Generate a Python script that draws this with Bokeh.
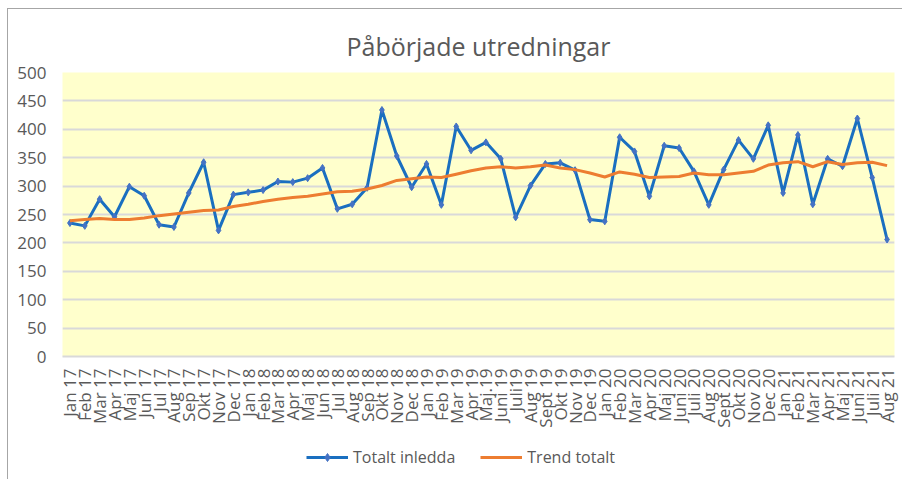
from bokeh.plotting import figure
from bokeh.models import Range1d, FixedTicker, Legend, LegendItem, ColumnDataSource
from bokeh.layouts import column
from bokeh.embed import file_html
from bokeh.resources import INLINE
import math

months = ["Jan 17", "Feb 17", "Mar 17", "Apr 17", "Maj 17", "Jun 17", "Jul 17", "Aug 17",
          "Sep 17", "Okt 17", "Nov 17", "Dec 17",
          "Jan 18", "Feb 18", "Mar 18", "Apr 18", "Maj 18", "Jun 18", "Jul 18", "Aug 18",
          "Sep 18", "Okt 18", "Nov 18", "Dec 18",
          "Jan 19", "Feb 19", "Mar 19", "Apr 19", "Maj.19", "Juni 19", "Juli19", "Aug 19",
          "Sept 19", "Okt 19", "Nov 19", "Dec 19",
          "Jan 20", "Feb 20", "Mar 20", "Apr 20", "Maj 20", "Juni 20", "Juli 20", "Aug 20",
          "Sept 20", "Okt 20", "Nov 20", "Dec 20",
          "Jan 21", "Feb 21", "Mar 21", "Apr 21", "Maj 21", "Juni 21", "Juli 21", "Aug 21"]

totalt_inledda = [235, 230, 277, 246, 299, 283, 232, 228, 288, 342, 222, 285,
                  289, 293, 308, 307, 314, 332, 260, 268, 297, 434, 353, 298,
                  339, 267, 405, 363, 377, 348, 245, 301, 339, 341, 328, 241,
                  238, 386, 361, 282, 371, 367, 326, 267, 329, 381, 348, 407,
                  288, 390, 268, 348, 335, 419, 315, 206]

trend_totalt = [239, 241, 243, 241, 241, 244, 248, 251, 254, 257, 258, 264,
                268, 273, 277, 280, 282, 286, 290, 291, 295, 301, 310, 313,
                316, 315, 321, 327, 332, 334, 332, 334, 337, 332, 329, 323,
                316, 325, 321, 315, 316, 317, 323, 320, 320, 323, 326, 337,
                341, 343, 334, 343, 338, 341, 342, 336]

y_ticks = [0, 50, 100, 150, 200, 250, 300, 350, 400, 450, 500]

src = ColumnDataSource(dict(m=months, t=totalt_inledda, tr=trend_totalt))

grey = "#595959"
font = "Open Sans"
blue = "#1A6FC0"
marker_blue = "#4472C4"
orange = "#ED7D31"
edge = "#A6A6A6"

p = figure(width=902, height=433, x_range=months, y_range=Range1d(0, 500),
           output_backend="svg", toolbar_location=None,
           min_border_left=62, min_border_right=8, min_border_top=72, min_border_bottom=77)
p.styles = {
    "background-color": "white",
    "background-image": f"linear-gradient({edge}, {edge}), linear-gradient({edge}, {edge})",
    "background-size": "1px 100%, 100% 1px",
    "background-position": "7px 8px, 7px 8px",
    "background-repeat": "no-repeat",
}

p.title.text = "Påbörjade utredningar"
p.title.align = "center"
p.title.text_font = font
p.title.text_font_size = "25px"
p.title.text_font_style = "normal"
p.title.text_color = grey
p.title.standoff = 20

p.background_fill_color = "#FFFFCC"
p.border_fill_color = None
p.outline_line_color = None
p.x_range.range_padding = 0

p.xgrid.grid_line_color = None
p.ygrid.grid_line_color = "#D9D9D9"
p.ygrid.grid_line_width = 2
p.yaxis.ticker = FixedTicker(ticks=y_ticks)

for ax in (p.xaxis, p.yaxis):
    ax.major_tick_line_color = None
    ax.minor_tick_line_color = None
    ax.major_tick_out = 0
    ax.major_tick_in = 0
    ax.major_label_text_font = font
    ax.major_label_text_color = grey

p.yaxis.axis_line_color = None
p.yaxis.major_label_text_font_size = "17px"
p.yaxis.major_label_standoff = 16

p.xaxis.axis_line_color = "#D9D9D9"
p.xaxis.axis_line_width = 2
p.xaxis.major_label_orientation = math.pi / 2
p.xaxis.major_label_text_font_size = "17px"
p.xaxis.major_label_standoff = 12

p.line("m", "t", source=src, line_color=blue, line_width=3)
p.scatter("m", "t", source=src, marker="diamond", size=7, color=marker_blue)
p.line("m", "tr", source=src, line_color=orange, line_width=3)

# legend strip below the chart
lg = figure(width=902, height=46, x_range=p.x_range, y_range=Range1d(1000, 1001),
            output_backend="svg", toolbar_location=None,
            x_axis_location=None, y_axis_location=None,
            min_border_left=0, min_border_right=0, min_border_top=0, min_border_bottom=0)
lg.styles = {
    "background-color": "white",
    "background-image": f"linear-gradient({edge}, {edge})",
    "background-size": "1px 100%",
    "background-position": "7px 0px",
    "background-repeat": "no-repeat",
}
lg.outline_line_color = None
lg.grid.grid_line_color = None
lg.background_fill_color = None
lg.border_fill_color = None
g1 = lg.line("m", "t", source=src, line_color=blue, line_width=3)
g1s = lg.scatter("m", "t", source=src, marker="diamond", size=7, color=marker_blue)
g2 = lg.line("m", "tr", source=src, line_color=orange, line_width=3)

legend = Legend(items=[LegendItem(label="Totalt inledda", renderers=[g1, g1s]),
                       LegendItem(label="Trend totalt", renderers=[g2])],
                location=(244, 11), orientation="horizontal",
                border_line_color=None, background_fill_alpha=0,
                padding=2, margin=0, spacing=25, glyph_width=42, label_standoff=5,
                label_text_font=font, label_text_font_size="16px", label_text_color=grey)
lg.add_layout(legend, "center")

layout = column(p, lg, spacing=0)

open("out.html", "w").write(file_html(layout, INLINE))
